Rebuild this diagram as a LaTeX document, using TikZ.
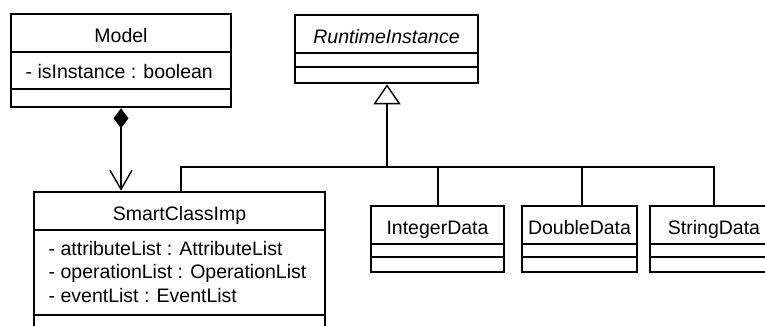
\documentclass[tikz,border=0pt]{standalone}
\usepackage{fontspec}
\setmainfont{Liberation Sans}
\usetikzlibrary{arrows.meta,calc}
\begin{document}
\begin{tikzpicture}[x=1pt,y=-1pt,
  classbox/.style={draw,line width=2.6pt,inner sep=0pt,fill=white},
  divline/.style={line width=1.3pt},
  conn/.style={line width=1.4pt},
  lbl/.style={font=\fontsize{19.5}{23.5}\selectfont,inner sep=0pt,anchor=base},
  attr/.style={font=\fontsize{19.5}{23.5}\selectfont,inner sep=0pt,anchor=base west},
]
\useasboundingbox (0,0) rectangle (765,325);
\fill[white] (0,0) rectangle (765,325);

% Model
\node[classbox,minimum width=220pt,minimum height=93pt] (model) at (121,60.5) {};
\draw[divline] (model.west |- 0,52) -- (model.east |- 0,52);
\draw[divline] (model.west |- 0,89) -- (model.east |- 0,89);
\node[lbl] (modelname) at (121,42) {Model};
\node[attr] (modelattr) at (25.5,78) {- isInstance : boolean};

% RuntimeInstance
\node[classbox,minimum width=183pt,minimum height=68pt] (rt) at (386.5,49) {};
\draw[divline] (rt.west |- 0,53) -- (rt.east |- 0,53);
\draw[divline] (rt.west |- 0,67) -- (rt.east |- 0,67);
\node[lbl] (rtname) at (386.5,43) {\itshape RuntimeInstance};

% SmartClassImp
\node[classbox,minimum width=291pt,minimum height=160pt] (smart) at (179.5,272) {};
\draw[divline] (smart.west |- 0,230) -- (smart.east |- 0,230);
\draw[divline] (smart.west |- 0,315) -- (smart.east |- 0,315);
\node[lbl] (smartname) at (179.5,220) {SmartClassImp};
\node[attr] (a1) at (48.5,255) {- attributeList : AttributeList};
\node[attr] (a2) at (48.5,278.5) {- operationList : OperationList};
\node[attr] (a3) at (48.5,302) {- eventList : EventList};

% IntegerData
\node[classbox,minimum width=133pt,minimum height=66pt] (int) at (437.5,239) {};
\draw[divline] (int.west |- 0,244) -- (int.east |- 0,244);
\draw[divline] (int.west |- 0,257) -- (int.east |- 0,257);
\node[lbl] (intname) at (437.5,234) {IntegerData};

% DoubleData
\node[classbox,minimum width=115pt,minimum height=66pt] (dbl) at (579.5,239) {};
\draw[divline] (dbl.west |- 0,244) -- (dbl.east |- 0,244);
\draw[divline] (dbl.west |- 0,257) -- (dbl.east |- 0,257);
\node[lbl] (dblname) at (579.5,234) {DoubleData};

% StringData
\node[classbox,minimum width=128pt,minimum height=66pt] (str) at (714,239) {};
\draw[divline] (str.west |- 0,244) -- (str.east |- 0,244);
\draw[divline] (str.west |- 0,257) -- (str.east |- 0,257);
\node[lbl] (strname) at (714,234) {StringData};

% composition
\draw[conn,{Diamond[length=20pt,width=15pt]}-{Straight Barb[length=19pt,width=22pt]}]
  (model.south) -- (smart.north -| model.south);

% generalization
\coordinate (j) at (387,167);
\coordinate (sx) at (181,0);
\coordinate (ix) at (438,0);
\coordinate (dx) at (582,0);
\draw[conn,-{Triangle[open,length=20pt,width=27pt]}] (j) -- (rt.south -| j);
\draw[conn] (smart.north -| sx) |- (j) -| (str.north);
\draw[conn] (int.north -| ix) -- (ix |- j);
\draw[conn] (dbl.north -| dx) -- (dx |- j);
\end{tikzpicture}
\end{document}
